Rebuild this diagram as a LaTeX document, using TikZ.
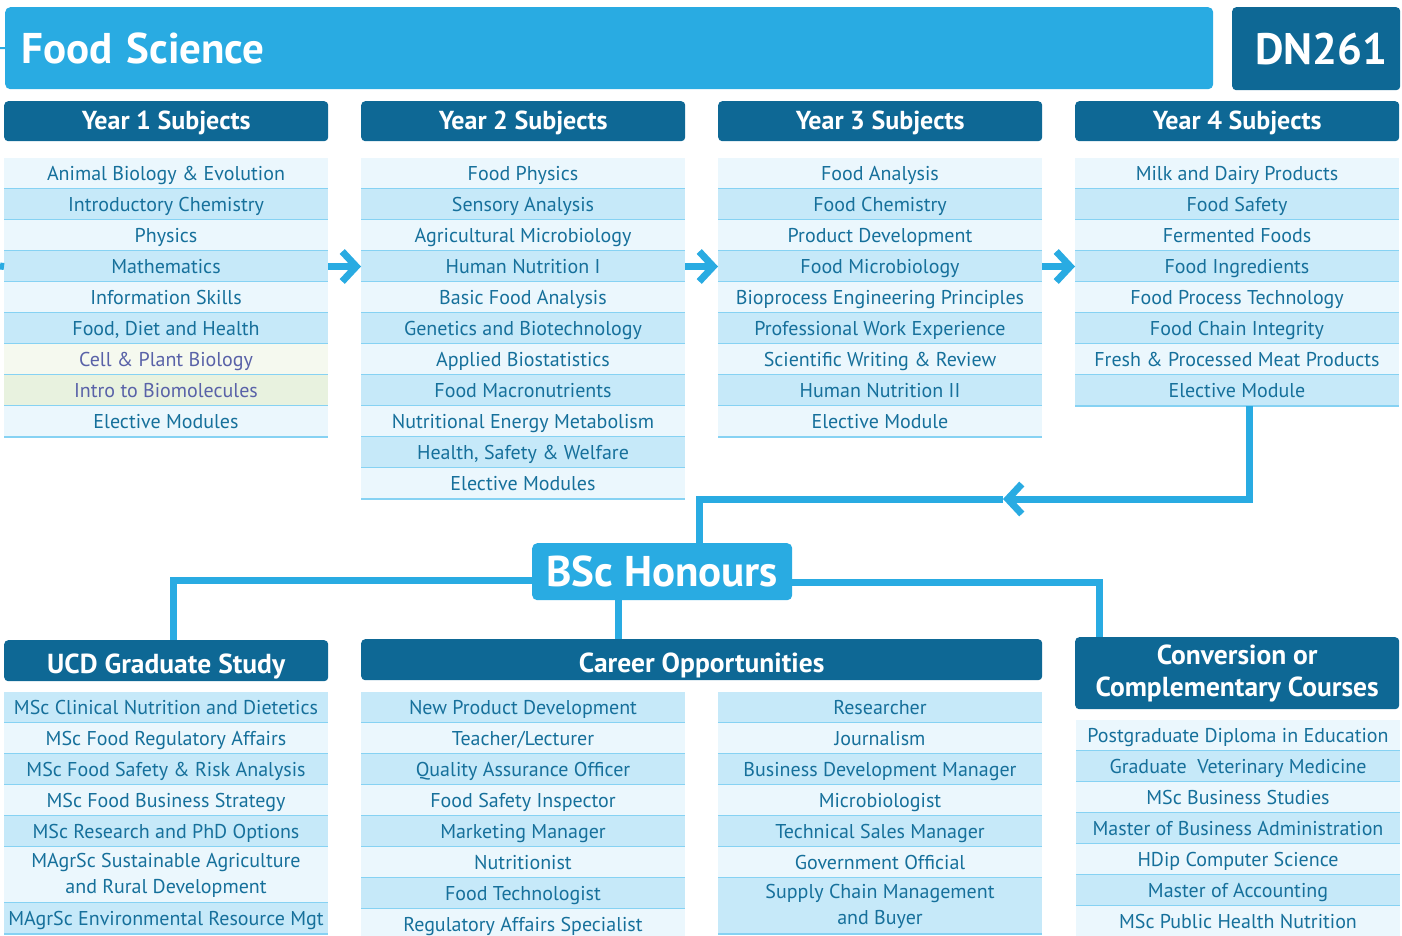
\documentclass[tikz,border=0pt]{standalone}
\usepackage{fontspec}
\setmainfont{PT Sans}
\usetikzlibrary{arrows.meta,positioning}
\definecolor{sky}{HTML}{29ABE2}
\definecolor{navy}{HTML}{0E6895}
\definecolor{ink}{HTML}{16709B}
\definecolor{palerow}{HTML}{EBF7FD}
\definecolor{deeprow}{HTML}{C6E9F9}
\definecolor{rowedge}{HTML}{86D2F3}
\definecolor{mossrow}{HTML}{F5F9EF}
\definecolor{sagerow}{HTML}{E8F2DF}
\definecolor{plum}{HTML}{5962A8}
\newcommand\rowfont{\fontsize{20}{26}\selectfont}
\tikzset{
  banner/.style   = {fill=sky, rounded corners=5pt, text=white, inner sep=0pt},
  navybox/.style  = {fill=navy, rounded corners=4pt, text=white, inner sep=0pt, align=center},
  yearhead/.style = {navybox, minimum width=324, minimum height=40, anchor=north west,
                     text height=18, text depth=2, font=\bfseries\fontsize{26}{30}\selectfont},
  tailhead/.style = {navybox, minimum width=324, minimum height=41, anchor=north west,
                     text height=26, text depth=0, font=\bfseries\fontsize{27.5}{32}\selectfont},
  subj/.style     = {minimum width=324, minimum height=31, inner sep=0pt, outer sep=0pt,
                     align=center, text height=15, text depth=1.5, text=ink, font=\rowfont},
  pale/.style     = {fill=palerow},
  deep/.style     = {fill=deeprow},
  moss/.style     = {fill=mossrow, text=plum},
  sage/.style     = {fill=sagerow, text=plum},
  paletall/.style = {pale, minimum height=56, text height={}, text depth={}},
  deeptall/.style = {deep, minimum height=56, text height={}, text depth={}},
  rowrule/.style  = {draw=rowedge, line width=2.5},
  flow/.style     = {draw=sky, line width=7},
  chevron/.style  = {-{Straight Barb[length=14pt, width=30pt]}}
}

\begin{document}
\begin{tikzpicture}[x=1pt, y=-1pt]
\useasboundingbox (0,0) rectangle (1402,936);

% top strip
\node[banner, anchor=north west, minimum height=82, text width=1176, inner xsep=16,
      align=left, font=\bfseries\fontsize{43}{48}\selectfont] (title) at (5,7) {Food Science};
\node[navybox, anchor=north west, minimum width=168, minimum height=83,
      font=\bfseries\fontsize{44}{48}\selectfont] (code) at (1232,7) {\hspace{10pt}DN261};
\coordinate (cut) at (0,48);
\draw[sky, line width=2] (cut) -- (title.west);

% the four years
\foreach \n/\x in {1/4, 2/361, 3/718, 4/1075}
  \node[yearhead] (y\n) at (\x,101) {Year \n\ Subjects};

\coordinate (a0) at (166,158);
\foreach \txt/\look [count=\i, remember=\i as \j (initially 0)] in
  {Animal Biology \& Evolution/pale, Introductory Chemistry/deep, Physics/pale,
   Mathematics/deep, Information Skills/pale, {Food, Diet and Health}/deep,
   Cell \& Plant Biology/moss, Intro to Biomolecules/sage, Elective Modules/pale}{
  \node[subj, \look, below=0pt of a\j] (a\i) {\txt};
  \draw[rowrule] (a\i.south west) -- (a\i.south east);
}

\coordinate (b0) at (523,158);
\foreach \txt/\look [count=\i, remember=\i as \j (initially 0)] in
  {Food Physics/pale, Sensory Analysis/deep, Agricultural Microbiology/pale,
   Human Nutrition I/deep, Basic Food Analysis/pale, Genetics and Biotechnology/deep,
   Applied Biostatistics/pale, Food Macronutrients/deep, Nutritional Energy Metabolism/pale,
   {Health, Safety \& Welfare}/deep, Elective Modules/pale}{
  \node[subj, \look, below=0pt of b\j] (b\i) {\txt};
  \draw[rowrule] (b\i.south west) -- (b\i.south east);
}

\coordinate (c0) at (880,158);
\foreach \txt/\look [count=\i, remember=\i as \j (initially 0)] in
  {Food Analysis/pale, Food Chemistry/deep, Product Development/pale,
   Food Microbiology/deep, Bioprocess Engineering Principles/pale,
   Professional Work Experience/deep, Scientific Writing \& Review/pale,
   Human Nutrition II/deep, Elective Module/pale}{
  \node[subj, \look, below=0pt of c\j] (c\i) {\txt};
  \draw[rowrule] (c\i.south west) -- (c\i.south east);
}

\coordinate (d0) at (1237,158);
\foreach \txt/\look [count=\i, remember=\i as \j (initially 0)] in
  {Milk and Dairy Products/pale, Food Safety/deep, Fermented Foods/pale,
   Food Ingredients/deep, Food Process Technology/pale, Food Chain Integrity/deep,
   Fresh \& Processed Meat Products/pale, Elective Module/deep}{
  \node[subj, \look, below=0pt of d\j] (d\i) {\txt};
  \draw[rowrule] (d\i.south west) -- (d\i.south east);
}

% arrows from year to year
\coordinate (edge) at (0,266);
\draw[flow] (edge) -- (a4.west);
\foreach \p/\q in {a/b, b/c, c/d}
  \draw[flow, chevron] (\p4.east) -- (\q4.west);

% degree
\node[banner, anchor=north west, minimum width=260, minimum height=57,
      font=\bfseries\fontsize{43}{46}\selectfont] (bsc) at (532,543) {BSc Honours};

\coordinate (turn) at (1003,499);
\draw[flow, chevron] ([xshift=12]d8.south) |- (turn);
\draw[flow] (turn) -| ([xshift=37]bsc.north);

% after the degree
\node[tailhead] (ucd) at (4,640) {UCD Graduate Study};
\node[tailhead, minimum width=681] (career) at (361,639) {Career Opportunities};
\node[tailhead, minimum height=72, text height={}, text depth={}] (conv) at (1075,637)
  {Conversion or\\Complementary Courses};

\coordinate (drop) at ([xshift=-44]bsc.south);
\draw[flow] ([yshift=-9]bsc.west) -| ([xshift=7]ucd.north);
\draw[flow] (drop) -- (drop |- career.north);
\draw[flow] ([yshift=-11]bsc.east) -| ([xshift=-138]conv.north);

\coordinate (u0) at (166,692);
\foreach \txt/\look [count=\i, remember=\i as \j (initially 0)] in
  {MSc Clinical Nutrition and Dietetics/deep, MSc Food Regulatory Affairs/pale,
   MSc Food Safety \& Risk Analysis/deep, MSc Food Business Strategy/pale,
   MSc Research and PhD Options/deep,
   {MAgrSc Sustainable Agriculture\\and Rural Development}/paletall,
   MAgrSc Environmental Resource Mgt/deep}{
  \node[subj, \look, below=0pt of u\j] (u\i) {\txt};
  \draw[rowrule] (u\i.south west) -- (u\i.south east);
}

\coordinate (p0) at (523,692);
\foreach \txt/\look [count=\i, remember=\i as \j (initially 0)] in
  {New Product Development/deep, {Teacher/Lecturer}/pale, Quality Assurance Officer/deep,
   Food Safety Inspector/pale, Marketing Manager/deep, Nutritionist/pale,
   Food Technologist/deep, Regulatory Affairs Specialist/pale}{
  \node[subj, \look, below=0pt of p\j] (p\i) {\txt};
  \draw[rowrule] (p\i.south west) -- (p\i.south east);
}

\coordinate (q0) at (880,692);
\foreach \txt/\look [count=\i, remember=\i as \j (initially 0)] in
  {Researcher/deep, Journalism/pale, Business Development Manager/deep,
   Microbiologist/pale, Technical Sales Manager/deep, Government Official/pale,
   {Supply Chain Management\\and Buyer}/deeptall}{
  \node[subj, \look, below=0pt of q\j] (q\i) {\txt};
  \draw[rowrule] (q\i.south west) -- (q\i.south east);
}

\coordinate (v0) at (1238,720);
\foreach \txt/\look [count=\i, remember=\i as \j (initially 0)] in
  {Postgraduate Diploma in Education/pale, Graduate\ \ Veterinary Medicine/deep,
   MSc Business Studies/pale, Master of Business Administration/deep,
   HDip Computer Science/pale, Master of Accounting/deep,
   MSc Public Health Nutrition/pale}{
  \node[subj, \look, below=0pt of v\j] (v\i) {\txt};
  \draw[rowrule] (v\i.south west) -- (v\i.south east);
}
\end{tikzpicture}
\end{document}
